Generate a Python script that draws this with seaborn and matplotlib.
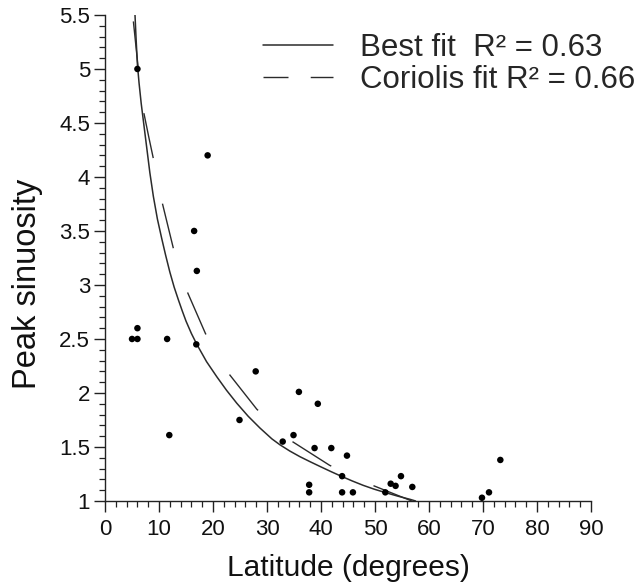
import matplotlib
matplotlib.use("Agg")
import matplotlib.pyplot as plt
from matplotlib.lines import Line2D
from matplotlib.ticker import MultipleLocator, FuncFormatter
import seaborn as sns

# STYLE
sns.set_theme(style="ticks")
plt.rcParams["font.family"] = ["Liberation Sans", "DejaVu Sans"]

# DATA
latitude = [6.0, 19.0, 16.5, 17.0, 5.0, 6.0, 6.0, 11.5, 16.9, 11.9,
            27.9, 24.9, 35.9, 39.4, 32.9, 34.9, 38.8, 41.9, 44.8, 43.9,
            37.8, 37.8, 43.9, 45.9, 51.9, 52.9, 53.8, 54.8, 56.9, 69.8,
            71.1, 73.2]
sinuosity = [5.0, 4.2, 3.5, 3.13, 2.5, 2.5, 2.6, 2.5, 2.45, 1.61,
             2.2, 1.75, 2.01, 1.9, 1.55, 1.61, 1.49, 1.49, 1.42, 1.23,
             1.15, 1.08, 1.08, 1.08, 1.08, 1.16, 1.14, 1.23, 1.13, 1.03,
             1.08, 1.38]

# best fit curve
best_x = [5.55, 5.75, 6.0, 6.3, 6.7, 7.2, 7.7, 8.3, 8.95, 9.7,
          10.5, 11.2, 12.0, 12.8, 13.6, 14.3, 15.0, 16.0, 17.0, 18.8,
          20.7, 22.5, 24.4, 26.5, 28.7, 30.9, 32.4, 34.2, 36.1, 38.0,
          39.8, 41.8, 43.8, 45.8, 47.8, 49.8, 51.9, 54.2, 56.5, 57.5]
best_y = [5.50, 5.28, 5.04, 4.87, 4.68, 4.48, 4.28, 4.04, 3.82, 3.61,
          3.43, 3.28, 3.12, 2.98, 2.86, 2.76, 2.665, 2.55, 2.45, 2.29,
          2.15, 2.025, 1.905, 1.785, 1.675, 1.575, 1.52, 1.463, 1.41, 1.363,
          1.32, 1.273, 1.228, 1.185, 1.145, 1.11, 1.078, 1.045, 1.015, 1.0]

# Coriolis fit curve
cor_x = [5.25, 6.2, 7.2, 8.1, 8.95, 10.6, 12.65, 15.2, 18.6, 22.9,
         28.1, 34.5, 41.6, 49.3, 56.8]
cor_y = [5.44, 4.98, 4.59, 4.37, 4.17, 3.76, 3.34, 2.94, 2.55, 2.18,
         1.85, 1.556, 1.33, 1.15, 1.0]

labels = ["Best fit  R\u00b2 = 0.63", "Coriolis fit R\u00b2 = 0.66"]
x_ticks = list(range(0, 91, 10))

LINE_COLOR = "#2b2b2b"
TEXT_COLOR = "#111111"

fig = plt.figure(figsize=(6.35, 5.82), dpi=100)
ax = fig.add_axes([0.1654, 0.1392, 0.7654, 0.8351])

sns.lineplot(x=best_x, y=best_y, sort=False, estimator=None, ax=ax,
             color=LINE_COLOR, linewidth=1.1)
sns.lineplot(x=cor_x, y=cor_y, sort=False, estimator=None, ax=ax,
             color=LINE_COLOR, linewidth=1.0, linestyle=(0, (33, 33.5)))
sns.scatterplot(x=latitude, y=sinuosity, ax=ax, color="black", s=22,
                edgecolor="none", zorder=3)

ax.set_xlim(0, 90)
ax.set_ylim(1, 5.5)
ax.set_xticks(x_ticks)
ax.xaxis.set_minor_locator(MultipleLocator(2))
ax.yaxis.set_major_locator(MultipleLocator(0.5))
ax.yaxis.set_minor_locator(MultipleLocator(0.1))
ax.yaxis.set_major_formatter(FuncFormatter(lambda v, p: f"{v:g}"))

for side in ["top", "right"]:
    ax.spines[side].set_visible(False)
for side in ["left", "bottom"]:
    ax.spines[side].set_linewidth(1.0)
    ax.spines[side].set_color("#222222")

ax.tick_params(which="major", direction="out", length=7.8, width=1.0,
               color="#222222", labelsize=16, labelcolor=TEXT_COLOR)
ax.tick_params(which="minor", direction="out", length=4.3, width=0.9,
               color="#222222")
ax.tick_params(axis="x", which="major", pad=5.5)
ax.tick_params(axis="y", which="major", pad=3)

ax.set_xlabel("Latitude (degrees)", fontsize=21.5, color=TEXT_COLOR,
              labelpad=10)
ax.set_ylabel("Peak sinuosity", fontsize=23.5, color=TEXT_COLOR)
ax.yaxis.set_label_coords(-0.128, 0.4465)

handles = [
    Line2D([], [], color=LINE_COLOR, linewidth=1.1),
    Line2D([], [], color=LINE_COLOR, linewidth=1.0,
           linestyle=(0, (18, 16))),
]
ax.legend(handles, labels, loc="upper left",
          bbox_to_anchor=(0.325, 0.962), frameon=False, fontsize=22.5,
          handlelength=2.25, handletextpad=0.85, labelspacing=0.05,
          borderpad=0, borderaxespad=0)

fig.savefig("out.png", dpi=100, facecolor="white")
